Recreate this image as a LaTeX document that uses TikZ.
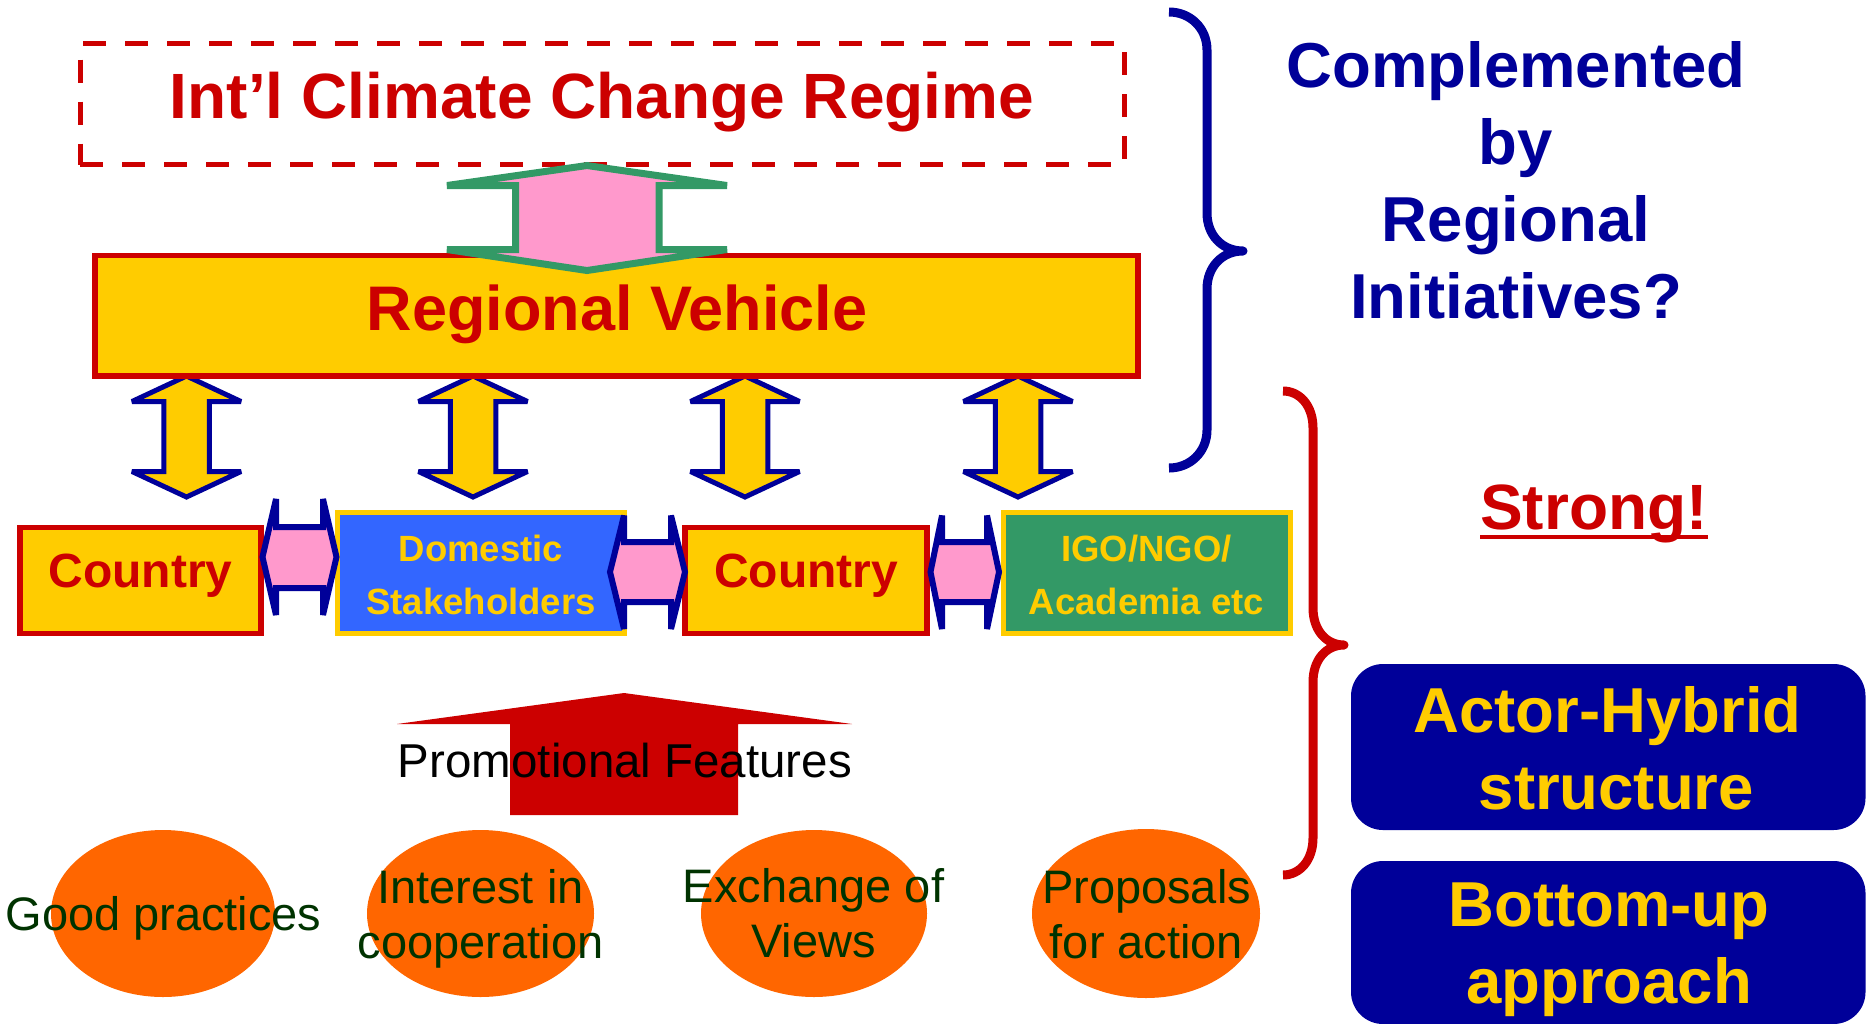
\documentclass[tikz,border=0pt]{standalone}
\usepackage{fontspec}
\setmainfont{Liberation Sans}
\usetikzlibrary{shapes.geometric}
\definecolor{cred}{HTML}{CC0000}
\definecolor{cyel}{HTML}{FFCC00}
\definecolor{cblue}{HTML}{3366FF}
\definecolor{cgreen}{HTML}{339966}
\definecolor{cpink}{HTML}{FF99CC}
\definecolor{cnavy}{HTML}{000099}
\definecolor{corange}{HTML}{FF6600}
\definecolor{cdkgreen}{HTML}{003300}
\begin{document}
\begin{tikzpicture}[x=1pt,y=-1pt,
  txt/.style={inner sep=0pt,outer sep=0pt,align=center},
  ftitle/.style={font=\fontsize{64}{77}\selectfont\bfseries},
  fside/.style={font=\fontsize{63.5}{77}\selectfont\bfseries},
  fcountry/.style={font=\fontsize{48}{58}\selectfont\bfseries},
  fsmall/.style={font=\fontsize{36.5}{53}\selectfont\bfseries},
  fplain/.style={font=\fontsize{47}{55}\selectfont},
  plainbox/.style={rectangle,inner sep=0pt,outer sep=0pt},
  redbox/.style={plainbox,draw=cred,fill=cyel,line width=5.5pt},
  yelbox/.style={plainbox,draw=cyel,line width=5pt},
  blob/.style={ellipse,fill=corange,inner sep=0pt,outer sep=0pt},
  navybox/.style={plainbox,fill=cnavy,rounded corners=32pt},
  yarrow/.style={draw=cnavy,fill=cyel,line width=5pt,miter limit=2},
  parrow/.style={draw=cnavy,fill=cpink,line width=6pt,miter limit=2},
  garrow/.style={draw=cgreen,fill=cpink,line width=7pt,miter limit=2},
  bracestyle/.style={line width=9pt,line join=round,line cap=butt},
]
\useasboundingbox (0,0) rectangle (1873,1023);

% top regime box
\node[plainbox,draw=cred,line width=5pt,dash pattern=on 23pt off 19pt,
      minimum width=1044pt,minimum height=121.5pt] (regime) at (602,103.75) {};

% vertical yellow double arrows (drawn before the vehicle box)
\foreach \cx [count=\i] in {186.5,473,745,1018}{
  \coordinate (va\i) at (\cx,436);
  \draw[yarrow] (\cx,376) -- (\cx+54.5,401.5) -- (\cx+22.75,401.5) -- (\cx+22.75,471.5)
     -- (\cx+54.5,471.5) -- (\cx,497) -- (\cx-54.5,471.5) -- (\cx-22.75,471.5)
     -- (\cx-22.75,401.5) -- (\cx-54.5,401.5) -- cycle;
}

% regional vehicle
\node[redbox,minimum width=1043pt,minimum height=120.5pt] (rv) at (616.5,315.75) {};

% green double arrow
\draw[garrow] (587,165.5) -- (727,185.5) -- (659,185.5) -- (659,249.5) -- (727,249.5)
   -- (587,270.5) -- (447,249.5) -- (515.5,249.5) -- (515.5,185.5) -- (447,185.5) -- cycle;

% bottom row boxes
\node[redbox,minimum width=241pt,minimum height=106pt] (c1) at (140.5,580.5) {};
\node[yelbox,fill=cblue,minimum width=287pt,minimum height=121pt] (dom) at (481,573) {};
\node[redbox,minimum width=242pt,minimum height=106pt] (c2) at (806,580.5) {};
\node[yelbox,fill=cgreen,minimum width=287pt,minimum height=121pt] (igo) at (1146.5,572.5) {};

% pink horizontal double arrows
\draw[parrow] (262.5,557) -- (276,499) -- (276,527) -- (323,527) -- (323,499) -- (336.5,557)
   -- (323,615) -- (323,588) -- (276,588) -- (276,615) -- cycle;
\draw[parrow] (610,572) -- (624,515.5) -- (624,542) -- (671,542) -- (671,515.5) -- (685,572)
   -- (671,629) -- (671,602) -- (624,602) -- (624,629) -- cycle;
\draw[parrow] (930.5,572) -- (942,515.5) -- (942,542) -- (987,542) -- (987,515.5) -- (999,572)
   -- (987,629) -- (987,602) -- (942,602) -- (942,629) -- cycle;

% texts of top and row boxes
\node[txt,ftitle,text=cred,anchor=base] (tregime) at (602,118) {Int’l Climate Change Regime};
\node[txt,font=\fontsize{63}{77}\selectfont\bfseries,text=cred,anchor=base] (trv) at (617,330) {Regional Vehicle};
\node[txt,fcountry,text=cred,anchor=base] (tc1) at (140.5,587) {Country};
\node[txt,fcountry,text=cred,anchor=base] (tc2) at (806,587) {Country};
\node[txt,fsmall,text=cyel,anchor=north] (tdom) at (481,535) {Domestic\\Stakeholders};
\node[txt,fsmall,text=cyel,anchor=north] (tigo) at (1146.5,535) {IGO/NGO/\\Academia etc};

% promotional arrow
\fill[cred] (624,693) -- (852,724) -- (738,724) -- (738,815) -- (510,815) -- (510,724) -- (397,724) -- cycle;
\node[txt,font=\fontsize{47.5}{55}\selectfont,anchor=base] (tpromo) at (625,777) {Promotional Features};

% ellipses
\node[blob,minimum width=224pt,minimum height=167pt] (e1) at (163,913.5) {};
\node[blob,minimum width=227pt,minimum height=167pt] (e2) at (480.5,913.5) {};
\node[blob,minimum width=226pt,minimum height=167pt] (e3) at (814,913.5) {};
\node[blob,minimum width=228pt,minimum height=169pt] (e4) at (1146,913.5) {};
\node[txt,fplain,text=cdkgreen,anchor=base] (tgood) at (163.5,930) {Good practices};
\node[txt,fplain,text=cdkgreen,anchor=north] (tint) at (480.5,869.3) {Interest in\\cooperation};
\node[txt,fplain,text=cdkgreen,anchor=north] (texc) at (813.5,868.8) {Exchange of\\Views};
\node[txt,fplain,text=cdkgreen,anchor=north] (tprop) at (1146.5,869.3) {Proposals\\for action};

% braces
\draw[bracestyle,cnavy] (1169,12) .. controls (1190,12) and (1207,28) .. (1207,50) -- (1207,213)
   .. controls (1207,235) and (1222,251) .. (1243,251)
   .. controls (1222,251) and (1207,267) .. (1207,289) -- (1207,430)
   .. controls (1207,452) and (1190,468) .. (1169,468);
\draw[bracestyle,cred] (1283,391) .. controls (1300,391) and (1313,406) .. (1313,428) -- (1313,608)
   .. controls (1313,630) and (1326,645) .. (1344,645)
   .. controls (1326,645) and (1313,660) .. (1313,682) -- (1313,838)
   .. controls (1313,860) and (1300,875) .. (1283,875);

% right side texts
\node[txt,fside,text=cnavy,anchor=north] (tcompl) at (1516,41.8) {Complemented\\by\\Regional\\Initiatives?};
\node[txt,ftitle,text=cred,anchor=base] (tstrong) at (1594,529) {Strong!};
\draw[cred,line width=4.5pt] ([yshift=-8pt]tstrong.base west) -- ([yshift=-8pt]tstrong.base east);

\node[navybox,minimum width=514.5pt,minimum height=166pt] (actor) at (1608.25,747) {};
\node[navybox,minimum width=514.5pt,minimum height=163pt] (bottom) at (1608.25,942.5) {};
\node[txt,fside,text=cyel,anchor=north] (tactor) at (1607.5,686.2) {Actor-Hybrid\\\hspace*{17.6pt}structure};
\node[txt,fside,text=cyel,anchor=north] (tbottom) at (1609,882.8) {Bottom-up\\approach};
\end{tikzpicture}
\end{document}
